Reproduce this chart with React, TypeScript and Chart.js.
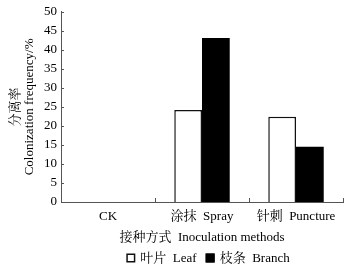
import React, { useEffect, useRef } from "react";
import { Chart, registerables } from "chart.js";

Chart.register(...registerables);

const categories = ["CK", "涂抹  Spray", "针刺  Puncture"];
const leafValues: (number | null)[] = [null, 24.2, 22.4];
const branchValues: (number | null)[] = [null, 43.1, 14.5];
const seriesNames = ["叶片  Leaf", "枝条  Branch"];
const yMin = 0;
const yMax = 50;
const yStep = 5;

const FONT = "'Liberation Serif', 'Times New Roman', 'Noto Serif CJK SC', 'Noto Sans CJK SC', serif";
const FS = 13;

const innerTicks = {
  id: "innerTicks",
  afterDraw(chart: any) {
    const ctx = chart.ctx;
    const x = chart.scales.x;
    const y = chart.scales.y;
    const area = chart.chartArea;
    ctx.save();
    ctx.strokeStyle = "#555";
    ctx.lineWidth = 1;
    ctx.beginPath();
    y.ticks.forEach((t: any) => {
      const py = Math.round(y.getPixelForValue(t.value)) + 0.5;
      ctx.moveTo(area.left, py);
      ctx.lineTo(area.left + 3, py);
    });
    const n = categories.length;
    for (let i = 1; i <= n; i++) {
      const px = Math.round(x.getPixelForValue(i - 0.5)) + 0.5;
      ctx.moveTo(px, area.bottom);
      ctx.lineTo(px, area.bottom - 4);
    }
    ctx.stroke();
    ctx.restore();
  },
};

const bottomLegend = {
  id: "bottomLegend",
  afterDraw(chart: any) {
    const ctx = chart.ctx;
    const ds = chart.data.datasets;
    const box = 9;
    const gap = 5;
    const itemGap = 9;
    const cx = 208;
    const cy = 258;
    ctx.save();
    ctx.font = `${FS}px ${FONT}`;
    const widths = ds.map((d: any) => box + gap + ctx.measureText(d.label).width);
    const total = widths.reduce((a: number, b: number) => a + b, 0) + itemGap * (ds.length - 1);
    let xPos = cx - total / 2;
    ds.forEach((d: any, i: number) => {
      ctx.fillStyle = d.backgroundColor;
      ctx.fillRect(xPos, cy - box / 2, box, box);
      ctx.strokeStyle = d.borderColor;
      ctx.lineWidth = 1.5;
      ctx.strokeRect(xPos + 0.75, cy - box / 2 + 0.75, box - 1.5, box - 1.5);
      ctx.fillStyle = "#000";
      ctx.textBaseline = "middle";
      ctx.textAlign = "left";
      ctx.fillText(d.label, xPos + box + gap, cy + 1);
      xPos += widths[i] + itemGap;
    });
    ctx.restore();
  },
};

export default function App() {
  const ref = useRef<HTMLCanvasElement>(null);
  useEffect(() => {
    document.body.style.margin = "0";
    const chart = new Chart(ref.current!, {
      type: "bar",
      data: {
        labels: categories,
        datasets: [
          {
            label: seriesNames[0],
            data: leafValues,
            backgroundColor: "#ffffff",
            borderColor: "#111111",
            borderWidth: 1.5,
            categoryPercentage: 0.59,
            barPercentage: 1,
          },
          {
            label: seriesNames[1],
            data: branchValues,
            backgroundColor: "#000000",
            borderColor: "#000000",
            borderWidth: 0,
            categoryPercentage: 0.59,
            barPercentage: 1,
          },
        ],
      },
      options: {
        animation: false,
        responsive: false,
        maintainAspectRatio: false,
        layout: { padding: { top: 11, right: 9, left: 0, bottom: 31 } },
        plugins: {
          tooltip: { enabled: false },
          legend: { display: false },
        },
        scales: {
          x: {
            grid: { display: false, drawTicks: false },
            border: { color: "#555", width: 1 },
            ticks: { color: "#000", padding: 7, font: { family: FONT, size: FS }, maxRotation: 0 },
            title: {
              display: true,
              text: "接种方式  Inoculation methods",
              color: "#000",
              font: { family: FONT, size: FS },
              padding: { top: 0, bottom: 0 },
            },
            afterFit(scale: any) {
              scale.height = 43;
            },
          },
          y: {
            min: yMin,
            max: yMax,
            grid: { display: false, drawTicks: false },
            border: { color: "#555", width: 1 },
            ticks: { stepSize: yStep, color: "#000", padding: 4, font: { family: FONT, size: FS } },
            title: {
              display: true,
              text: ["分离率", "Colonization frequency/%"],
              color: "#000",
              font: { family: FONT, size: FS, lineHeight: 1.1 },
              padding: { top: 8, bottom: 4 },
            },
            afterFit(scale: any) {
              scale.width = 61;
            },
          },
        },
      },
      plugins: [innerTicks, bottomLegend],
    });
    return () => chart.destroy();
  }, []);
  return <canvas ref={ref} width={352} height={276} style={{ display: "block" }} />;
}
